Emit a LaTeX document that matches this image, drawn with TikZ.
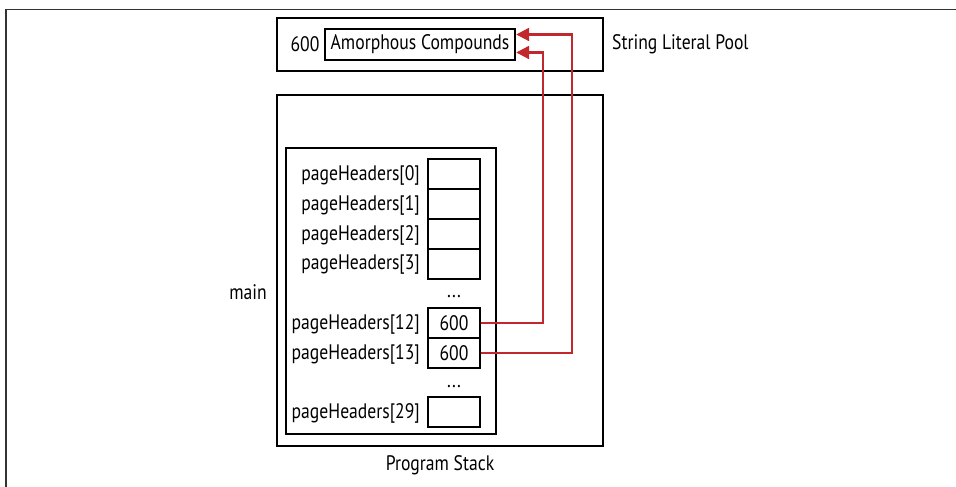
\documentclass[tikz,border=0pt]{standalone}
\usepackage{fontspec}
\setmainfont{PT Sans}[FakeStretch=0.84]
\usetikzlibrary{arrows.meta}
\begin{document}
\begin{tikzpicture}[x=1pt,y=-1pt,
  every node/.style={font=\fontsize{21}{24}\selectfont, inner sep=0pt},
  outerbox/.style={draw, line width=2.8pt, minimum width=#1},
  cell/.style={draw, line width=2.4pt, minimum width=52pt, minimum height=30pt},
  lbl/.style={anchor=east},
  ptr/.style={draw=ptrred, line width=2.2pt, -{Triangle[length=13pt,width=13pt]}},
  frameline/.style={draw=black!80, line width=1.6pt}
]
\definecolor{ptrred}{HTML}{C1272D}
\useasboundingbox (0,0) rectangle (956,487);
\draw[frameline] (6,487) -- (6,9.5) -- (956,9.5);

% String literal pool
\node[outerbox=326pt, minimum height=53pt] (pool) at (440,44.5) {};
\node[draw, line width=2.4pt, minimum width=190pt, minimum height=31pt] (amo) at (420,44.5) {Amorphous Compounds};
\node (v600) at (305,44.5) {600};
\node[anchor=west] (poollbl) at (612,44.5) {String Literal Pool};

% Program stack
\node[outerbox=326pt, minimum height=351pt] (stack) at (440,270.5) {};
\node[draw, line width=2.4pt, minimum width=210pt, minimum height=286pt] (mainbox) at (391,291) {};
\node (mainlbl) at (248,292) {main};
\node (stacklbl) at (440,465) {Program Stack};

% cells
\node[cell] (c0) at (454,174) {};
\node[cell] (c1) at (454,204) {};
\node[cell] (c2) at (454,234) {};
\node[cell] (c3) at (454,264) {};
\node[cell] (c12) at (454,323) {600};
\node[cell] (c13) at (454,353) {600};
\node[cell] (c29) at (454,412) {};
\node (dots1) at (454,297) {...};
\node (dots2) at (454,387) {...};

\node[lbl] (l0) at (420,175) {pageHeaders[0]};
\node[lbl] (l1) at (420,205) {pageHeaders[1]};
\node[lbl] (l2) at (420,235) {pageHeaders[2]};
\node[lbl] (l3) at (420,265) {pageHeaders[3]};
\node[lbl] (l12) at (420,324) {pageHeaders[12]};
\node[lbl] (l13) at (420,354) {pageHeaders[13]};
\node[lbl] (l29) at (420,413) {pageHeaders[29]};

% pointers
\draw[ptr] (c12.east) -- ++(62,0) |- ([yshift=-8pt]amo.east);
\draw[ptr] (c13.east) -- ++(91,0) |- ([yshift=10pt]amo.east);
\end{tikzpicture}
\end{document}
